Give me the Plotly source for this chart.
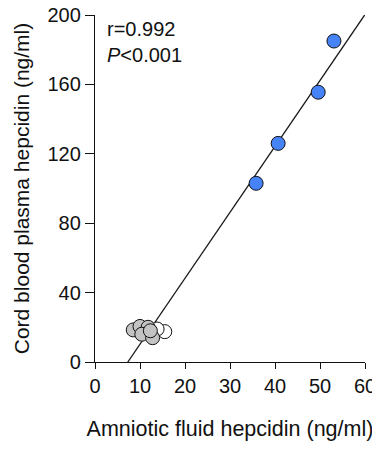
import plotly.graph_objects as go

# Data
blue_x = [35.8, 40.7, 49.6, 53.1]
blue_y = [103, 126, 155.5, 185]
gray_x = [8.5, 10.0, 11.8, 10.4, 12.8, 12.3]
gray_y = [18.5, 20.5, 20.0, 16.0, 14.0, 18.0]
white_x = [15.5, 13.8]
white_y = [17.5, 19.0]
fit_slope = 3.8
fit_intercept = -27.7
fit_x = [7.29, 60]
fit_y = [fit_slope * v + fit_intercept for v in fit_x]
x_ticks = [0, 10, 20, 30, 40, 50, 60]
y_ticks = [0, 40, 80, 120, 160, 200]

FONT = "Liberation Sans, Arial, sans-serif"

fig = go.Figure()
fig.add_trace(go.Scatter(x=fit_x, y=fit_y, mode="lines",
                         line=dict(color="#1a1a1a", width=1.3), showlegend=False, hoverinfo="skip"))
marker_line = dict(color="#111111", width=1)
fig.add_trace(go.Scatter(x=white_x, y=white_y, mode="markers",
                         marker=dict(size=14, color="#ffffff", line=marker_line), showlegend=False))
fig.add_trace(go.Scatter(x=gray_x, y=gray_y, mode="markers",
                         marker=dict(size=14, color="#c3c3c3", line=marker_line), showlegend=False))
fig.add_trace(go.Scatter(x=blue_x, y=blue_y, mode="markers",
                         marker=dict(size=14, color="#4683f7", line=marker_line), showlegend=False))

fig.add_annotation(x=0, y=1, xref="paper", yref="paper", xanchor="left", yanchor="top",
                   xshift=10, yshift=-1, align="left", showarrow=False,
                   text="r=0.992<br><i>P</i><0.001",
                   font=dict(family=FONT, size=20, color="#111111"))

axis_common = dict(showgrid=False, zeroline=False, showline=True, linecolor="#111111",
                   linewidth=1.3, ticks="outside", tickcolor="#111111", tickwidth=1.3,
                   automargin=False, ticklabeloverflow="allow",
                   tickfont=dict(family=FONT, size=20, color="#111111"))
fig.update_xaxes(range=[0, 60], tickvals=x_ticks, ticklen=6,
                 title=dict(text="Amniotic fluid hepcidin (ng/ml)", standoff=24,
                            font=dict(family=FONT, size=21.5, color="#111111")),
                 **axis_common)
fig.update_yaxes(range=[0, 200], tickvals=y_ticks, ticklen=9,
                 title=dict(text="Cord blood plasma hepcidin (ng/ml)", standoff=12,
                            font=dict(family=FONT, size=21, color="#111111")),
                 **axis_common)
fig.update_layout(width=372, height=441, margin=dict(l=87, r=15, t=7, b=87),
                  plot_bgcolor="white", paper_bgcolor="white")
fig.write_html("out.html")
